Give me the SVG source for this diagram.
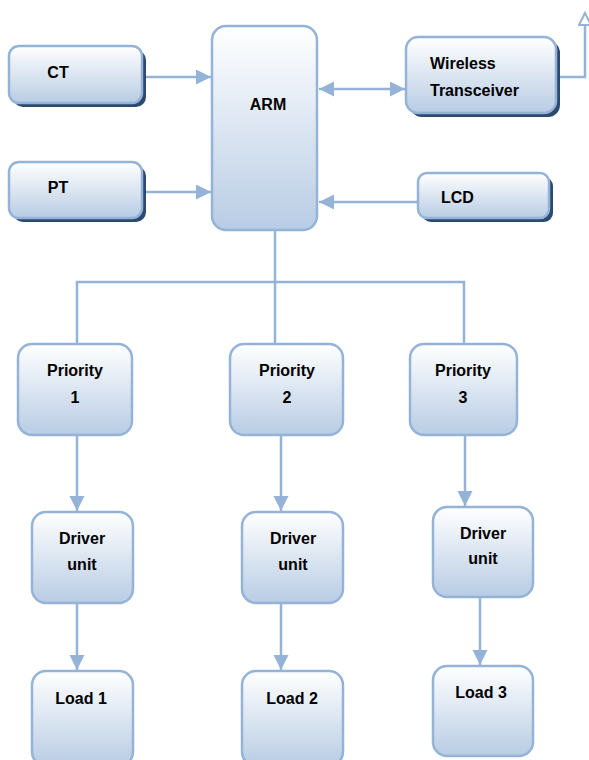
<svg xmlns="http://www.w3.org/2000/svg" width="589" height="760" viewBox="0 0 589 760">
<defs>
<linearGradient id="g" x1="0" y1="0" x2="0" y2="1">
<stop offset="0" stop-color="#ffffff"/>
<stop offset="1" stop-color="#b8cce4"/>
</linearGradient>
<marker id="ah" markerUnits="userSpaceOnUse" markerWidth="16" markerHeight="16" refX="15" refY="7.5" orient="auto-start-reverse" viewBox="0 0 16 16">
<path d="M0,0 L15,7.5 L0,15 z" fill="#95b3d7"/>
</marker>
<marker id="oh" markerUnits="userSpaceOnUse" markerWidth="16" markerHeight="16" refX="13" refY="7" orient="auto" viewBox="0 0 16 16">
<path d="M1,1 L13,7 L1,13 z" fill="#ffffff" stroke="#95b3d7" stroke-width="2"/>
</marker>
</defs>
<style>
.box{fill:url(#g);stroke:#95b3d7;stroke-width:2.5}
.sh{fill:#2b4a6f}
.c{fill:none;stroke:#95b3d7;stroke-width:2.5}
text{font-family:"Liberation Sans",Arial,sans-serif;font-weight:bold;font-size:16px;fill:#000}
.m{text-anchor:middle}
</style>
<g id="connectors">
<line class="c" x1="143" y1="77" x2="211" y2="77" marker-end="url(#ah)"/>
<line class="c" x1="143" y1="192" x2="211" y2="192" marker-end="url(#ah)"/>
<line class="c" x1="319" y1="89" x2="405" y2="89" marker-start="url(#ah)" marker-end="url(#ah)"/>
<line class="c" x1="417" y1="202" x2="319" y2="202" marker-end="url(#ah)"/>
<polyline class="c" points="557,77 585,77 585,13" marker-end="url(#oh)"/>
<line class="c" x1="275" y1="230" x2="275" y2="282"/>
<polyline class="c" points="77,344 77,282 464,282 464,344"/>
<line class="c" x1="275" y1="282" x2="275" y2="344"/>
<line class="c" x1="77" y1="435" x2="77" y2="511" marker-end="url(#ah)"/>
<line class="c" x1="281" y1="435" x2="281" y2="511" marker-end="url(#ah)"/>
<line class="c" x1="465" y1="435" x2="465" y2="506" marker-end="url(#ah)"/>
<line class="c" x1="77" y1="604" x2="77" y2="670" marker-end="url(#ah)"/>
<line class="c" x1="281" y1="604" x2="281" y2="670" marker-end="url(#ah)"/>
<line class="c" x1="480" y1="598" x2="480" y2="665" marker-end="url(#ah)"/>
</g>
<g id="ct">
<rect class="sh" x="13" y="50" width="133" height="57" rx="10"/>
<rect class="box" x="9" y="46" width="133" height="57" rx="10"/>
<text x="58" y="78" class="m">CT</text>
</g>
<g id="pt">
<rect class="sh" x="13" y="166" width="133" height="56" rx="10"/>
<rect class="box" x="9" y="162" width="133" height="56" rx="10"/>
<text x="58" y="193" class="m">PT</text>
</g>
<g id="arm">
<rect class="box" x="212" y="26" width="105" height="204" rx="14"/>
<text x="268" y="110" class="m">ARM</text>
</g>
<g id="wireless">
<rect class="sh" x="410" y="41" width="150" height="76" rx="12"/>
<rect class="box" x="406" y="37" width="150" height="76" rx="12"/>
<text x="430" y="69">Wireless</text>
<text x="430" y="96">Transceiver</text>
</g>
<g id="lcd">
<rect class="sh" x="422" y="177" width="131" height="45" rx="9"/>
<rect class="box" x="418" y="173" width="131" height="45" rx="9"/>
<text x="441" y="203">LCD</text>
</g>
<g id="priority1">
<rect class="box" x="18" y="344" width="114" height="91" rx="14"/>
<text x="75" y="376" class="m">Priority</text>
<text x="75" y="403" class="m">1</text>
</g>
<g id="priority2">
<rect class="box" x="230" y="344" width="113" height="91" rx="14"/>
<text x="287" y="376" class="m">Priority</text>
<text x="287" y="403" class="m">2</text>
</g>
<g id="priority3">
<rect class="box" x="410" y="344" width="107" height="91" rx="14"/>
<text x="463" y="376" class="m">Priority</text>
<text x="463" y="403" class="m">3</text>
</g>
<g id="driver1">
<rect class="box" x="32" y="512" width="101" height="91" rx="14"/>
<text x="82" y="544" class="m">Driver</text>
<text x="82" y="570" class="m">unit</text>
</g>
<g id="driver2">
<rect class="box" x="242" y="512" width="101" height="91" rx="14"/>
<text x="293" y="544" class="m">Driver</text>
<text x="293" y="570" class="m">unit</text>
</g>
<g id="driver3">
<rect class="box" x="433" y="507" width="100" height="90" rx="14"/>
<text x="483" y="539" class="m">Driver</text>
<text x="483" y="564" class="m">unit</text>
</g>
<g id="load1">
<rect class="box" x="32" y="671" width="101" height="95" rx="14"/>
<text x="81" y="704" class="m">Load 1</text>
</g>
<g id="load2">
<rect class="box" x="242" y="671" width="101" height="95" rx="14"/>
<text x="292" y="704" class="m">Load 2</text>
</g>
<g id="load3">
<rect class="box" x="433" y="666" width="100" height="90" rx="14"/>
<text x="481" y="698" class="m">Load 3</text>
</g>
</svg>
